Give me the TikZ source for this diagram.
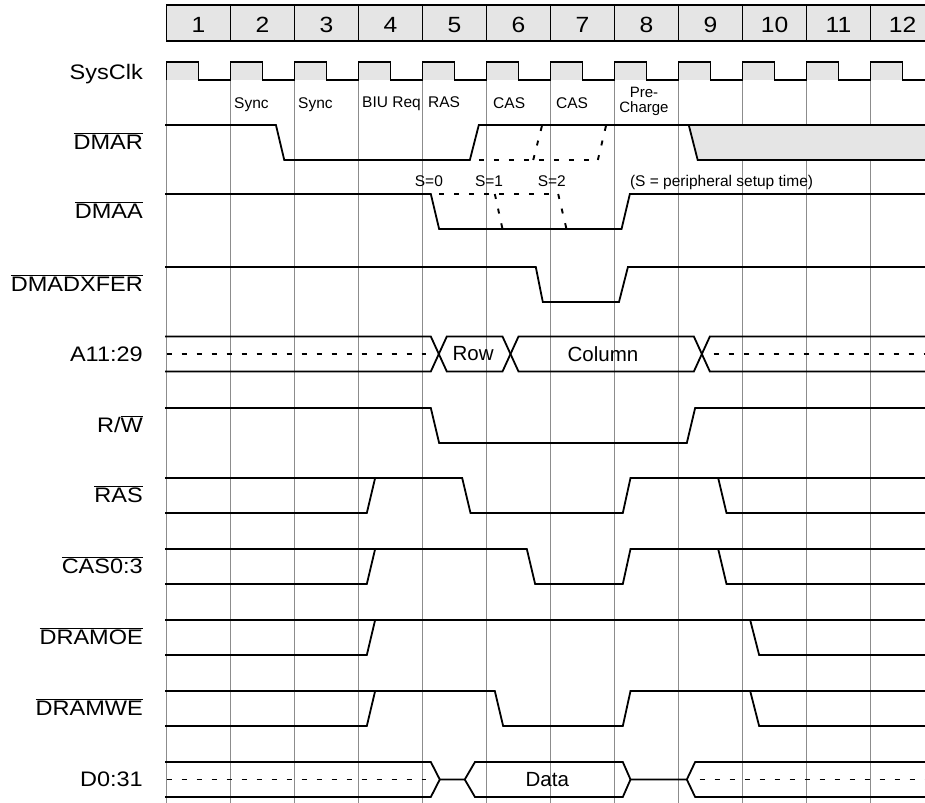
\documentclass[tikz,border=0pt]{standalone}
\usepackage{fontspec}
\setmainfont{Liberation Sans}
\newfontfamily\namefont{Liberation Sans}[FakeStretch=1.12]
\definecolor{cellgray}{gray}{0.9}
\definecolor{gridgray}{gray}{0.55}

\begin{document}
\begin{tikzpicture}[x=64pt, y=-1pt,
    wave/.style={line width=1.8pt, line join=miter},
    wavedots/.style={line width=1.9pt, dash pattern=on 5pt off 10pt},
    gridline/.style={draw=gridgray, line width=0.9pt},
    thinline/.style={line width=1.1pt},
    siglabel/.style={anchor=base east, inner sep=0pt, font=\namefont\fontsize{21}{24}\selectfont},
    cyclenum/.style={anchor=base, inner sep=0pt, font=\namefont\fontsize{22}{26}\selectfont},
    phase/.style={anchor=base west, inner sep=0pt, font=\fontsize{15.5}{12.8}\selectfont},
    buslabel/.style={inner sep=0pt, font=\fontsize{20.5}{23}\selectfont}]
    \useasboundingbox (-2.6016,0) rectangle (11.8516,803);
    \clip (-2.6016,0) rectangle (11.8516,803);

    % cycle numbers
    \foreach \k in {1,...,12} {
        \draw[thinline, fill=cellgray] (\k-1,5) rectangle (\k,41);
        \node[cyclenum] (n\k) at (\k-0.5,32.3) {\k};
    }

    % grid
    \foreach \k in {0,...,11}
        \draw[gridline] (\k,62) -- (\k,803);

    % system clock
    \foreach \k in {0,...,11} {
        \fill[cellgray] (\k,62) rectangle (\k+0.5,80);
        \draw[thinline] (\k,80) -- (\k,62) -- (\k+0.5,62) -- (\k+0.5,80) -- (\k+1,80);
    }

    % signal names
    \node[siglabel] (lclk) at (-0.367,79.5) {SysClk};
    \node[siglabel] (ldmar) at (-0.367,149.5) {$\overline{\hbox{DMAR}}$};
    \node[siglabel] (ldmaa) at (-0.367,218.5) {$\overline{\hbox{DMAA}}$};
    \node[siglabel] (lxfer) at (-0.367,291.5) {$\overline{\hbox{DMADXFER}}$};
    \node[siglabel] (laddr) at (-0.367,361.5) {A11:29};
    \node[siglabel] (lrw) at (-0.367,432.5) {R/$\overline{\hbox{W}}$};
    \node[siglabel] (lras) at (-0.367,502.5) {$\overline{\hbox{RAS}}$};
    \node[siglabel] (lcas) at (-0.367,573.5) {$\overline{\hbox{CAS0:3}}$};
    \node[siglabel] (loe) at (-0.367,644.5) {$\overline{\hbox{DRAMOE}}$};
    \node[siglabel] (lwe) at (-0.367,715.5) {$\overline{\hbox{DRAMWE}}$};
    \node[siglabel] (ldata) at (-0.367,786.5) {D0:31};

    % cycle phases
    \node[phase] (psync1) at (1.055,108.3) {Sync};
    \node[phase] (psync2) at (2.055,108.3) {Sync};
    \node[phase] (pbiu) at (3.055,107.5) {BIU Req};
    \node[phase] (pras) at (4.086,107) {RAS};
    \node[phase] (pcas1) at (5.102,108.3) {CAS};
    \node[phase] (pcas2) at (6.086,108.3) {CAS};
    \node[phase, anchor=center, align=center, font=\fontsize{15}{15}\selectfont] (ppre) at (7.46,101.8) {Pre-\\Charge};

    % DMAR
    \begin{scope}[shift={(0,125)}]
        \fill[cellgray] (8.16,0) -- (8.30,35) -- (12,35) -- (12,0) -- cycle;
        \draw[wave] (-0.02,0) -- (1.71,0) -- (1.84,35) -- (4.74,35) -- (4.88,0) -- (12,0);
        \draw[wave] (8.16,0) -- (8.30,35) -- (12,35);
        \draw[wavedots] (4.88,35) -- (6.74,35);
        \draw[wavedots] (5.73,35) -- (5.87,0);
        \draw[wavedots] (6.74,35) -- (6.87,0);
    \end{scope}

    % DMAA
    \node[phase, anchor=base] (s0) at (4.10,186.7) {S=0};
    \node[phase, anchor=base] (s1) at (5.04,186.7) {S=1};
    \node[phase, anchor=base] (s2) at (6.02,186.7) {S=2};
    \node[phase] (snote) at (7.24,186.7) {(S = peripheral setup time)};
    \begin{scope}[shift={(0,194)}]
        \draw[wave] (-0.02,0) -- (4.13,0) -- (4.26,35) -- (7.11,35) -- (7.24,0) -- (12,0);
        \draw[wavedots] (4.26,0) -- (6.13,0);
        \draw[wavedots] (5.13,0) -- (5.25,35);
        \draw[wavedots] (6.12,0) -- (6.25,35);
    \end{scope}

    % DMADXFER
    \begin{scope}[shift={(0,267)}]
        \draw[wave] (-0.02,0) -- (5.77,0) -- (5.88,35) -- (7.07,35) -- (7.21,0) -- (12,0);
    \end{scope}

    % address bus
    \begin{scope}[shift={(0,336.5)}]
        \draw[wave] (-0.02,0) -- (4.13,0) -- (4.38,35) -- (5.25,35) -- (5.50,0) -- (8.24,0) -- (8.49,35) -- (12,35);
        \draw[wave] (-0.02,35) -- (4.13,35) -- (4.38,0) -- (5.25,0) -- (5.50,35) -- (8.24,35) -- (8.49,0) -- (12,0);
        \draw[wavedots] (0,17.5) -- (4.05,17.5);
        \draw[wavedots] (8.55,17.5) -- (12,17.5);
        \node[buslabel] (row) at (4.79,17.5) {Row};
        \node[buslabel] (col) at (6.82,17.5) {Column};
    \end{scope}

    % read / write
    \begin{scope}[shift={(0,408)}]
        \draw[wave] (-0.02,0) -- (4.13,0) -- (4.26,35) -- (8.13,35) -- (8.26,0) -- (12,0);
    \end{scope}

    % RAS
    \begin{scope}[shift={(0,478)}]
        \draw[wave] (-0.02,0) -- (4.62,0) -- (4.75,35) -- (7.13,35) -- (7.25,0) -- (12,0);
        \draw[wave] (-0.02,35) -- (3.13,35) -- (3.26,0);
        \draw[wave] (8.62,0) -- (8.75,35) -- (12,35);
    \end{scope}

    % CAS
    \begin{scope}[shift={(0,549)}]
        \draw[wave] (-0.02,0) -- (5.63,0) -- (5.76,35) -- (7.13,35) -- (7.25,0) -- (12,0);
        \draw[wave] (-0.02,35) -- (3.13,35) -- (3.26,0);
        \draw[wave] (8.62,0) -- (8.75,35) -- (12,35);
    \end{scope}

    % DRAMOE
    \begin{scope}[shift={(0,620)}]
        \draw[wave] (-0.02,0) -- (12,0);
        \draw[wave] (-0.02,35) -- (3.13,35) -- (3.26,0);
        \draw[wave] (9.12,0) -- (9.26,35) -- (12,35);
    \end{scope}

    % DRAMWE
    \begin{scope}[shift={(0,691)}]
        \draw[wave] (-0.02,0) -- (5.13,0) -- (5.26,35) -- (7.13,35) -- (7.25,0) -- (12,0);
        \draw[wave] (-0.02,35) -- (3.13,35) -- (3.26,0);
        \draw[wave] (9.12,0) -- (9.26,35) -- (12,35);
    \end{scope}

    % data bus
    \begin{scope}[shift={(0,762)}]
        \draw[wave] (-0.02,0) -- (4.13,0) -- (4.27,17.5) -- (4.66,17.5) -- (4.82,0) -- (7.13,0)
            -- (7.25,17.5) -- (8.13,17.5) -- (8.26,0) -- (12,0);
        \draw[wave] (-0.02,35) -- (4.13,35) -- (4.27,17.5);
        \draw[wave] (4.66,17.5) -- (4.82,35) -- (7.13,35) -- (7.25,17.5);
        \draw[wave] (8.13,17.5) -- (8.26,35) -- (12,35);
        \draw[wavedots] (0,17.5) -- (4.05,17.5);
        \draw[wavedots] (8.33,17.5) -- (12,17.5);
        \node[buslabel] (data) at (5.95,17.5) {Data};
    \end{scope}
\end{tikzpicture}
\end{document}
